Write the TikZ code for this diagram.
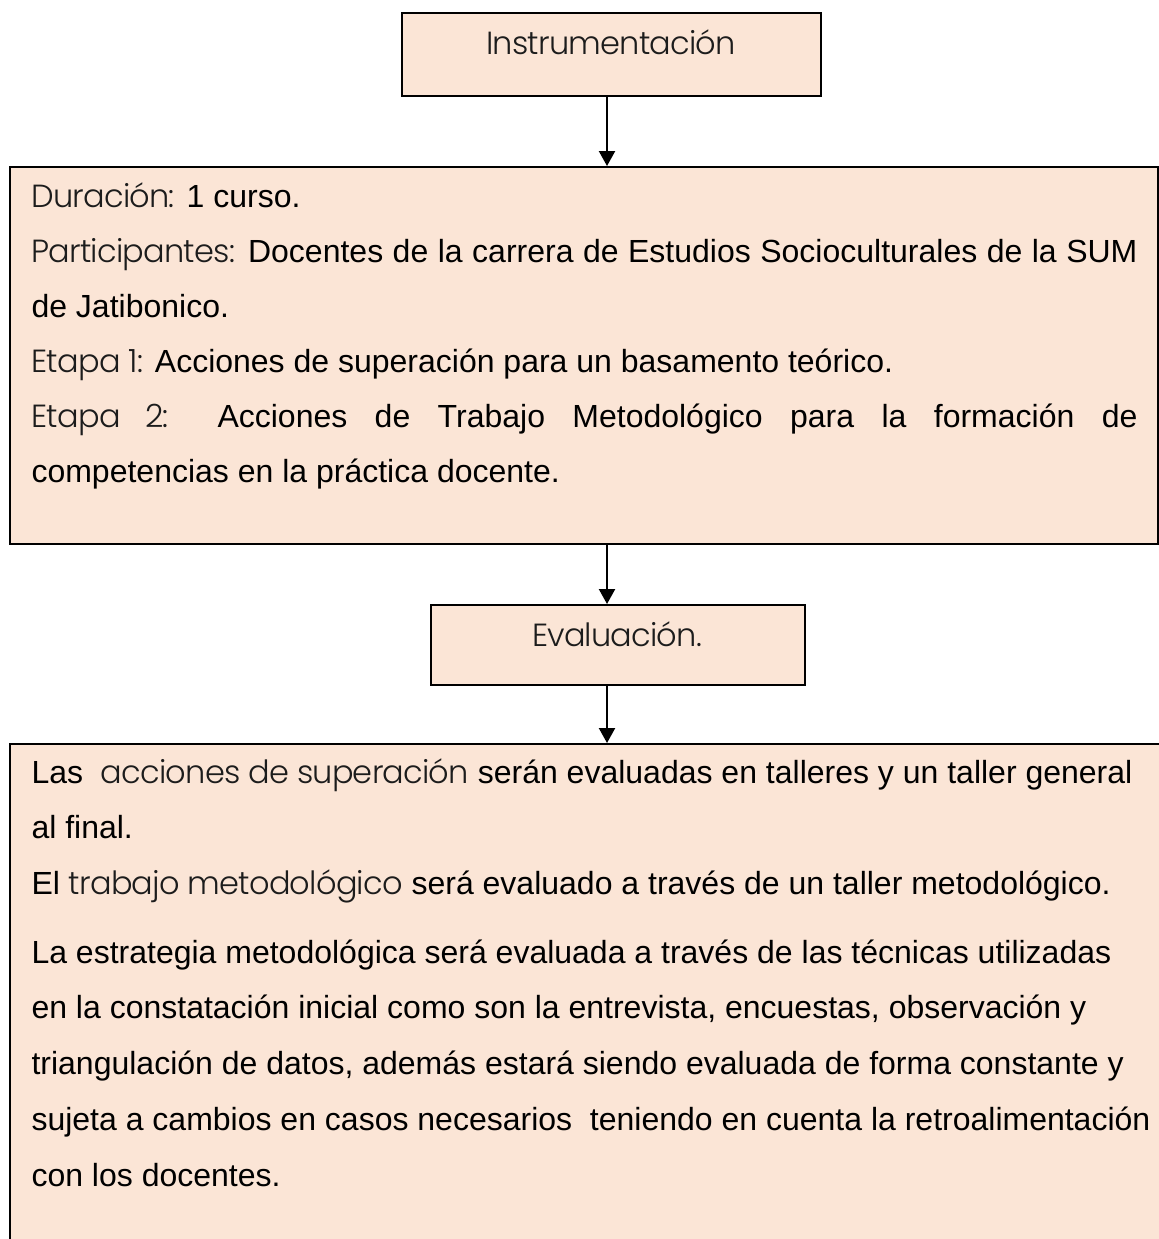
\documentclass[tikz,border=0pt]{standalone}
\usepackage{fontspec}
\setmainfont{Liberation Sans}
\newfontfamily\lightfont{Poppins Light}[LetterSpace=-2.5]
\usetikzlibrary{arrows.meta}
\definecolor{peach}{HTML}{FBE5D6}
\definecolor{lightink}{HTML}{1C1C1C}
\newcommand\lt[1]{{\lightfont\color{lightink}#1}}
\begin{document}
\begin{tikzpicture}[x=0.375pt, y=-0.375pt,
  box/.style={draw=black, line width=0.75pt, fill=peach, inner sep=0pt, anchor=north west},
  txt/.style={anchor=base west, inner sep=0pt, font=\fontsize{12pt}{14pt}\selectfont},
  lbl/.style={anchor=base, inner sep=0pt, font=\fontsize{12pt}{14pt}\selectfont},
  arr/.style={line width=0.75pt, -{Triangle[width=6pt,length=5.6pt]}}]
\useasboundingbox (0,0) rectangle (1159,1239);
% boxes
\node[box, minimum width=157.125pt, minimum height=31.125pt] (b1) at (401,12) {};
\node[box, minimum width=430.5pt, minimum height=141.375pt] (b2) at (9,166) {};
\node[box, minimum width=140.25pt, minimum height=30pt] (b3) at (430,604) {};
\node[box, minimum width=437.25pt, minimum height=193.875pt] (b4) at (9,743) {};
% connectors
\coordinate (ax) at (607,0);
\draw[arr] (b1.south -| ax) -- (b2.north -| ax);
\draw[arr] (b2.south -| ax) -- (b3.north -| ax);
\draw[arr] (b3.south -| ax) -- (b4.north -| ax);
% labels
\node[lbl] (t1) at (611,54) {\lt{Instrumentación}};
\node[lbl] (t3) at (617,646) {\lt{Evaluación.}};
% box 2 text
\node[txt] (d1) at (31,207) {\lt{Duración:} 1 curso.};
\node[txt] (d2) at (31,262) {\makebox[414.75pt][s]{\lt{Participantes:} Docentes de la carrera de Estudios Socioculturales de la SUM}};
\node[txt] (d3) at (31,317) {de Jatibonico.};
\node[txt] (d4) at (31,372) {\lt{Etapa 1:} Acciones de superación para un basamento teórico.};
\node[txt] (d5) at (31,427) {\makebox[414.75pt][s]{\lt{Etapa 2:} Acciones de Trabajo Metodológico para la formación de}};
\node[txt] (d6) at (31,482) {competencias en la práctica docente.};
% box 4 text
\node[txt] (e1) at (31,783) {Las\ \ \lt{acciones de superación} serán evaluadas en talleres y un taller general};
\node[txt] (e2) at (31,838) {al final.};
\node[txt] (e3) at (31,894) {El \lt{trabajo metodológico} será evaluado a través de un taller metodológico.};
\node[txt] (e4) at (31,963) {La estrategia metodológica será evaluada a través de las técnicas utilizadas};
\node[txt] (e5) at (31,1018) {en la constatación inicial como son la entrevista, encuestas, observación y};
\node[txt] (e6) at (31,1074) {triangulación de datos, además estará siendo evaluada de forma constante y};
\node[txt] (e7) at (31,1130) {sujeta a cambios en casos necesarios\ \ teniendo en cuenta la retroalimentación};
\node[txt] (e8) at (31,1186) {con los docentes.};
\end{tikzpicture}
\end{document}
